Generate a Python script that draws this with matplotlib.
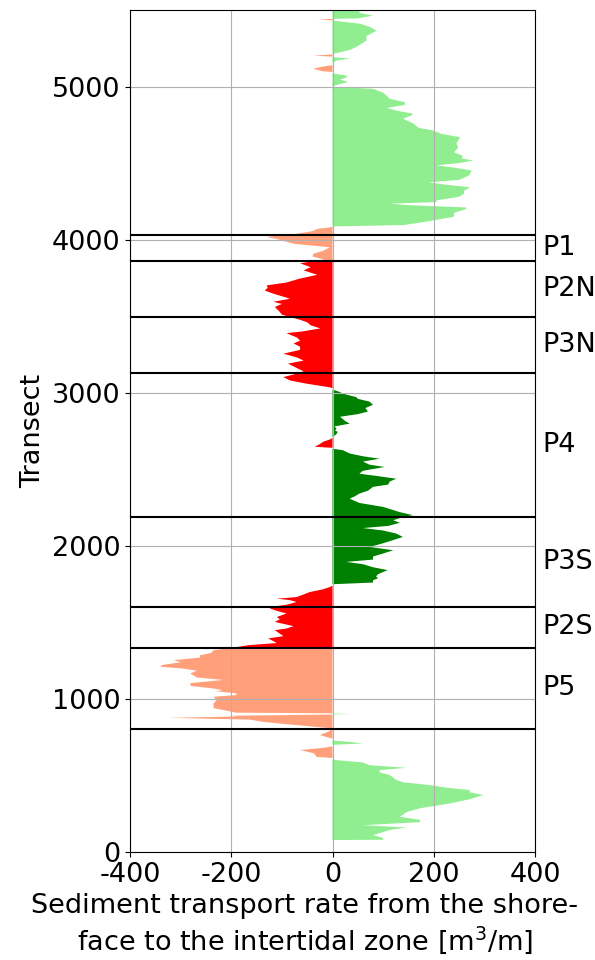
import numpy as np
import matplotlib
matplotlib.use("Agg")
import matplotlib.pyplot as plt

plt.rcParams['axes.unicode_minus'] = False
plt.rcParams['font.size'] = 19.5

# transect number and transport rate
transect = [78, 80, 91, 110, 144, 160, 175, 195, 210, 230, 260, 286, 317, 345, 372, 390, 405, 420, 437, 455,
            470, 503, 520, 535, 550, 567, 585, 600, 605,
            614, 621, 645, 666, 680, 690,
            700, 709, 719, 728,
            740, 764, 790, 809, 833, 850, 865, 876, 885, 890, 898,
            899, 901, 905,
            906, 910, 940, 971, 990, 1014, 1025, 1036, 1050, 1057, 1068, 1085, 1103, 1124, 1140, 1166, 1185,
            1200, 1210, 1221, 1240, 1253, 1270, 1285, 1300, 1318, 1333,
            1351, 1365, 1395, 1410, 1449, 1460, 1475, 1503, 1520, 1535, 1558, 1575, 1590, 1601, 1615, 1633,
            1645, 1655, 1665, 1698, 1715, 1731, 1740,
            1749, 1760, 1775, 1788, 1800, 1815, 1841, 1860, 1880, 1895, 1910, 1930, 1950, 1971, 1993, 2010,
            2030, 2058, 2080, 2100, 2116, 2130, 2150, 2167, 2189, 2200, 2220, 2254, 2280, 2308, 2325, 2341,
            2360, 2385, 2400, 2420, 2438, 2455, 2471, 2490, 2515, 2530, 2550, 2569, 2585, 2603, 2625, 2634,
            2640, 2647, 2665, 2680, 2695, 2705,
            2710, 2730, 2744, 2755, 2765, 2780, 2798, 2815, 2843, 2860, 2877, 2900, 2921, 2942, 2960, 2971,
            2990, 3010, 3020,
            3028, 3035, 3059, 3080, 3102, 3125, 3140, 3160, 3190, 3210, 3230, 3255, 3280, 3300, 3322, 3340,
            3360, 3389, 3400, 3420, 3440, 3460, 3476, 3495, 3510, 3527, 3560, 3580, 3594, 3614, 3630, 3647,
            3668, 3685, 3701, 3720, 3746, 3770, 3799, 3820, 3845, 3858,
            3870, 3890, 3909, 3925, 3950, 3972, 3990, 4004, 4017, 4030, 4038, 4055, 4070, 4080, 4085,
            4086, 4095, 4120, 4150, 4175, 4200, 4210, 4225, 4235, 4245, 4256, 4280, 4300, 4320, 4342, 4360,
            4375, 4390, 4420, 4452, 4470, 4485, 4500, 4517, 4530, 4549, 4570, 4600, 4630, 4669, 4690, 4713,
            4730, 4760, 4790, 4811, 4823, 4840, 4860, 4880, 4897, 4920, 4940, 4960, 4985, 4998,
            5000, 5010, 5030, 5045, 5060, 5072, 5085,
            5095, 5100, 5117, 5130, 5140,
            5150, 5170, 5183, 5192,
            5195, 5202, 5210,
            5212, 5224, 5240, 5260, 5300, 5330, 5365, 5390, 5410, 5425, 5432,
            5437, 5442,
            5445, 5463, 5480, 5500]
rate = [0, 100, 100, 80, 113, 146, 60, 173, 173, 133, 146, 173, 232, 271, 298, 271, 271, 225, 192, 140,
        126, 113, 93, 93, 146, 73, 60, 8, 0,
        0, -31, -37, -64, -20, 0,
        0, 60, 34, 0,
        0, -25, -5, -5, -85, -137, -163, -325, -190, -200, 0,
        0, 34, 0,
        0, -190, -235, -235, -229, -235, -190, -190, -230, -217, -235, -280, -281, -216, -268, -281, -268,
        -300, -340, -337, -300, -314, -262, -262, -240, -235, -200,
        -166, -110, -127, -97, -114, -91, -77, -114, -104, -110, -91, -110, -123, -123, -91, -71,
        -84, -110, -71, -45, -20, -5, 0,
        0, 80, 80, 90, 86, 90, 109, 80, 60, 27, 80, 80, 100, 120, 73, 93,
        113, 139, 126, 100, 60, 110, 133, 120, 140, 159, 133, 100, 53, 34, 45, 53,
        70, 80, 110, 113, 126, 90, 53, 60, 103, 73, 60, 93, 60, 34, 20, 0,
        0, -35, -25, -18, -5, 0,
        0, 8, 10, 5, 8, 4, 34, 25, 15, 50, 70, 65, 80, 73, 50, 47,
        25, 10, 0,
        0, -5, -51, -84, -97, -70, -57, -70, -88, -57, -70, -97, -64, -64, -77, -64,
        -70, -91, -60, -24, -43, -50, -64, -84, -100, -104, -114, -100, -117, -84, -100, -117,
        -134, -128, -130, -91, -64, -30, -57, -43, -64, -40,
        -17, -40, -37, -20, -5, -75, -95, -110, -130, -100, -71, -40, -30, -5, 0,
        0, 140, 190, 240, 240, 264, 264, 150, 113, 205, 205, 250, 260, 260, 272, 220,
        190, 250, 270, 275, 240, 206, 250, 278, 255, 257, 240, 248, 245, 252, 216, 199,
        170, 159, 139, 156, 159, 130, 107, 143, 143, 113, 107, 100, 80, 0,
        0, 8, 31, 15, 28, 28, 0,
        0, -20, -38, -20, 0,
        0, 8, 35, 0,
        0, -37, 0,
        0, 15, 35, 48, 67, 67, 87, 73, 55, 15, 0,
        -28, 0,
        50, 80, 55, 50]

zone_edges = [805, 1333, 1600, 2190, 3128, 3495, 3858, 4032]
zone_names = ['P5', 'P2S', 'P3S', 'P4', 'P3N', 'P2N', 'P1']

T = np.array(transect)
V = np.array(rate)
strong = (T >= 1333) & (T <= 3858)
weak = (T <= 1333) | (T >= 3858)

fig = plt.figure(figsize=(5.95, 9.6), dpi=100)
ax = fig.add_axes([0.2185, 0.1125, 0.6807, 0.8771])
ax.fill_betweenx(T, 0, V, where=weak & (V >= 0), color='lightgreen', lw=0)
ax.fill_betweenx(T, 0, V, where=weak & (V <= 0), color='lightsalmon', lw=0)
ax.fill_betweenx(T, 0, V, where=strong & (V >= 0), color='green', lw=0)
ax.fill_betweenx(T, 0, V, where=strong & (V <= 0), color='red', lw=0)

for e in zone_edges:
    ax.axhline(e, color='black', lw=1.5)
for i, name in enumerate(zone_names):
    mid = (zone_edges[i] + zone_edges[i + 1]) / 2
    ax.text(415, mid, name, va='center', ha='left', clip_on=False)

ax.set_xlim(-400, 400)
ax.set_ylim(0, 5500)
ax.set_xticks([-400, -200, 0, 200, 400])
ax.grid(True)
ax.set_ylabel('Transect')
ax.set_xlabel('Sediment transport rate from the shore-\nface to the intertidal zone [m$^3$/m]', x=0.432)

fig.savefig('out.png')
